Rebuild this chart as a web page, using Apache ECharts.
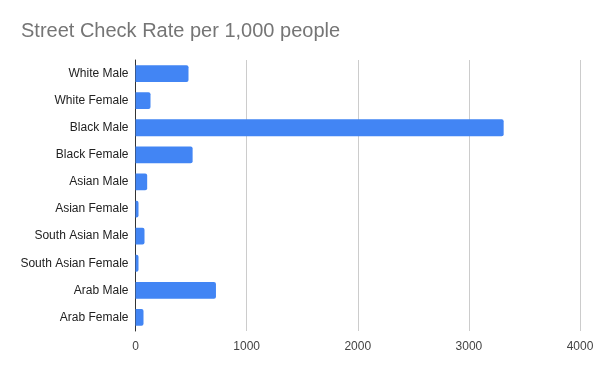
<!DOCTYPE html>
<html><head><meta charset="utf-8">
<script src="https://cdn.jsdelivr.net/npm/echarts@6/dist/echarts.min.js"></script>
<style>html,body{margin:0;padding:0;background:#fff}#c{width:600px;height:371px}</style>
</head><body><div id="c"></div>
<script>
const categories = ["White Male","White Female","Black Male","Black Female","Asian Male","Asian Female","South Asian Male","South Asian Female","Arab Male","Arab Female"];
const rates = [477, 135, 3313, 514, 105, 27, 81, 27, 724, 72];
const xTicks = [0, 1000, 2000, 3000, 4000];

const FONT = "'Liberation Sans', Arial, sans-serif";
const chart = echarts.init(document.getElementById('c'), null, {renderer:'canvas'});
chart.setOption({
  animation:false,
  backgroundColor:'#fff',
  title:{text:'Street Check Rate per 1,000 people', left:16, top:16,
    textStyle:{fontFamily:FONT, fontSize:20, fontWeight:'normal', color:'#757575'}},
  grid:{left:135.5, right:20, top:60, bottom:40, containLabel:false},
  xAxis:{type:'value', min:xTicks[0], max:xTicks[xTicks.length-1], interval:1000,
    axisLine:{show:false}, axisTick:{show:false},
    splitLine:{lineStyle:{color:'#cccccc'}},
    axisLabel:{fontFamily:FONT, fontSize:12, color:'#444', margin:10, formatter:v=>String(v)}},
  yAxis:{type:'category', data:categories, inverse:true,
    axisLine:{lineStyle:{color:'#333', width:1}}, axisTick:{show:false},
    axisLabel:{fontFamily:FONT, fontSize:12, color:'#222', margin:7}},
  series:[{type:'bar', data:rates, barCategoryGap:'38%',
    itemStyle:{color:'#4285F4', borderRadius:[0,2,2,0]}}]
});
</script></body></html>
